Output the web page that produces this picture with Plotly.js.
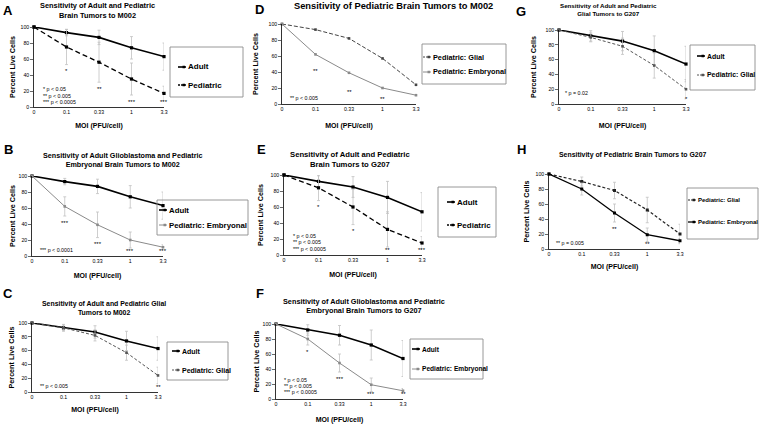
<!DOCTYPE html>
<html><head><meta charset="utf-8">
<script src="https://cdn.plot.ly/plotly-3.0.1.min.js"></script>
<style>html,body{margin:0;padding:0;background:#fff}#chart{width:760px;height:427px}</style>
</head><body><div id="chart"></div>
<script>
// ---- data ----
const moi = ['0','0.1','0.33','1','3.3'];
const adultM002 = [100,93,87,74,63];
const adultM002Err = [0,4,9,14,17];
const pedM002 = [100,75,56,35,17];
const pedM002Err = [0,22,25,20,9];
const glialM002 = [100,93,82,57,24];
const glialM002Err = [0,5,8,11,12];
const embM002 = [100,62,39,20,11];
const embM002Err = [0,12,16,10,3];
const adultG207 = [100,92,85,72,54];
const adultG207Err = [0,7,13,20,24];
const pedG207 = [100,84,60,32,15];
const pedG207Err = [0,16,22,22,8];
const glialG207 = [100,90,78,52,20];
const glialG207Err = [0,6,11,17,13];
const embG207 = [100,80,48,19,11];
const embG207Err = [0,8,12,9,3];

const starsA = ['','*','**','***','***'];
const starsB = ['','***','***','***','***'];
const starsC = ['','','','','**'];
const starsD = ['','**','**','**',''];
const starsE = ['','*','*','**','***'];
const starsF = ['','*','***','***','**'];
const starsG = ['','','','','*'];
const starsH = ['','','**','**',''];

const notes3a = ['* p < 0.05','** p < 0.005','*** p < 0.0005'];
const notesB = ['*** p < 0.0001'];
const notesCD = ['** p < 0.005'];
const notesG = ['* p = 0.02'];
const notesH = ['** p = 0.005'];

const titleA = ['Sensitivity of Adult and Pediatric','Brain Tumors to M002'];
const titleB = ['Sensitivity of Adult Glioblastoma and Pediatric','Embryonal Brain Tumors to M002'];
const titleC = ['Sensitivity of Adult and Pediatric Glial','Tumors to M002'];
const titleD = ['Sensitivity of Pediatric Brain Tumors to M002'];
const titleE = ['Sensitivity of Adult and Pediatric','Brain Tumors to G207'];
const titleF = ['Sensitivity of Adult Glioblastoma and Pediatric','Embryonal Brain Tumors to G207'];
const titleG = ['Sensitivity of Adult and Pediatric','Glial Tumors to G207'];
const titleH = ['Sensitivity of Pediatric Brain Tumors to G207'];

const xTitle = 'MOI (PFU/cell)';
const yTitle = 'Percent Live Cells';

// ---- styles ----
const FONT = 'Liberation Sans, Arial, sans-serif';
const STY = {
  adult:  {color:'#000', width:1.6, dash:'solid', mc:'#000', ms:3.2},
  ped:    {color:'#000', width:1.3, dash:'5px,3px', mc:'#000', ms:3.2},
  emb:    {color:'#8a8a8a', width:1, dash:'solid', mc:'#8a8a8a', ms:2.6},
  glial:  {color:'#555', width:1, dash:'3px,2px', mc:'#555', ms:2.6},
  glialD: {color:'#444', width:1, dash:'4px,2px', mc:'#444', ms:2.6},
  glialH: {color:'#222', width:1.2, dash:'3px,2px', mc:'#222', ms:3},
  embH:   {color:'#000', width:1.3, dash:'solid', mc:'#000', ms:3}
};

// ---- panel layout (pixels) ----
const panels = [
 {letter:'A', lp:[8,10], title:titleA, tf:7.4, tp:[97,10.5], dom:[34,164,27,107],
  series:[['Adult',adultM002,adultM002Err,'adult'],['Pediatric',pedM002,pedM002Err,'ped']],
  stars:starsA, notes:notes3a, nx:0.2, ny:[23,14,6], err:true,
  box:[170,47,243,97], sx:178, iy:[67,85], lf:8, xd:20, yd:21},
 {letter:'B', lp:[8,150], title:titleB, tf:7.2, tp:[122,159.5], dom:[32,163,176,256],
  series:[['Adult',adultM002,adultM002Err,'adult'],['Pediatric: Embryonal',embM002,embM002Err,'emb']],
  stars:starsB, notes:notesB, nx:0.18, ny:[8], err:true,
  box:[157,200,248,235], sx:159, iy:[210,225], lf:7.8, xd:21, yd:19},
 {letter:'C', lp:[8,293], title:titleC, tf:6.9, tp:[104,307.5], dom:[32,158,323,392],
  series:[['Adult',adultM002,adultM002Err,'adult'],['Pediatric: Glial',glialM002,glialM002Err,'glial']],
  stars:starsC, notes:notesCD, nx:0.19, ny:[8], err:true,
  box:[167,342,228,380], sx:172, iy:[351,370], lf:7, xd:19, yd:20},
 {letter:'D', lp:[259,9], title:titleD, tf:9.3, tp:[393,6], dom:[282,416,24,104],
  series:[['Pediatric: Glial',glialM002,glialM002Err,'glialD'],['Pediatric: Embryonal',embM002,embM002Err,'emb']],
  stars:starsD, notes:notesCD, nx:0.18, ny:[8], err:false,
  box:[422,44,506,84], sx:423, iy:[57,72], lf:7.3, xd:23, yd:17},
 {letter:'E', lp:[261,150], title:titleE, tf:7.7, tp:[350,159.5], dom:[284,422,175,255],
  series:[['Adult',adultG207,adultG207Err,'adult'],['Pediatric',pedG207,pedG207Err,'ped']],
  stars:starsE, notes:notes3a, nx:0.2, ny:[24,16,8], err:true,
  box:[438,187,496,237], sx:447, iy:[202,225], lf:8, xd:21, yd:23},
 {letter:'F', lp:[260,293], title:titleF, tf:7.3, tp:[364,305.5], dom:[276,403,324,399],
  series:[['Adult',adultG207,adultG207Err,'adult'],['Pediatric: Embryonal',embG207,embG207Err,'emb']],
  stars:starsF, notes:notes3a, nx:0.19, ny:[26,17,9], err:true,
  box:[410,339,483,379], sx:412, iy:[349,369], lf:6.6, xd:22, yd:19},
 {letter:'G', lp:[521,11], title:titleG, tf:6.2, tp:[608,9.5], dom:[559,686,30,104],
  series:[['Adult',adultG207,adultG207Err,'adult'],['Pediatric: Glial',glialG207,glialG207Err,'glial']],
  stars:starsG, notes:notesG, nx:0.13, ny:[15], err:true,
  box:[690,45,755,90], sx:697, iy:[56,75], lf:6.9, xd:23, yd:25},
 {letter:'H', lp:[521,150], title:titleH, tf:6.9, tp:[632,155], dom:[549,680,174,249],
  series:[['Pediatric: Glial',glialG207,glialG207Err,'glialH'],['Pediatric: Embryonal',embG207,embG207Err,'embH']],
  stars:starsH, notes:notesH, nx:0.15, ny:[8], err:true,
  box:[687,188,758,239], sx:688, iy:[200,222], lf:6, xd:19, yd:22}
];

const W = 760, H = 427;
const px = v => v / W, py = v => 1 - v / H;
const data = [], annotations = [], shapes = [];
const layout = {
  width: W, height: H, margin:{l:0,r:0,t:0,b:0},
  paper_bgcolor:'#fff', plot_bgcolor:'rgba(0,0,0,0)',
  showlegend:false, font:{family:FONT, color:'#000'}
};

panels.forEach((p, i) => {
  const n = i === 0 ? '' : String(i + 1);
  const xr = 'x' + n, yr = 'y' + n;
  layout['xaxis' + n] = {
    domain:[px(p.dom[0]), px(p.dom[1])], anchor:yr, type:'category', range:[0,4],
    showline:true, linecolor:'#000', linewidth:0.8, ticks:'', showgrid:false, zeroline:false,
    tickfont:{family:FONT, size:5.2, color:'#000'}, fixedrange:true,
    title:{text:xTitle, font:{family:FONT, size:7, weight:'bold', color:'#000'}, standoff:p.xd - 12}
  };
  layout['yaxis' + n] = {
    domain:[py(p.dom[3]), py(p.dom[2])], anchor:xr, range:[0,100], dtick:20,
    showline:true, linecolor:'#000', linewidth:0.8, ticks:'outside', ticklen:3, tickwidth:0.8,
    showgrid:false, zeroline:false, tickfont:{family:FONT, size:5.2, color:'#000'}, fixedrange:true,
    title:{text:yTitle, font:{family:FONT, size:7.2, weight:'bold', color:'#000'}, standoff:p.yd - 18}
  };
  p.series.forEach(([name, vals, errs, st]) => {
    const s = STY[st];
    data.push({
      type:'scatter', mode:'lines+markers', name:name, x:moi, y:vals,
      xaxis:xr, yaxis:yr, cliponaxis:false, hoverinfo:'skip',
      line:{color:s.color, width:s.width, dash:s.dash},
      marker:{symbol:'square', size:s.ms, color:s.mc},
      error_y:{type:'data', array:errs, visible:p.err, color:'#c2c2c2', thickness:0.8, width:1.5}
    });
  });
  // significance stars under points (x given as category index)
  p.stars.forEach((t, k) => {
    if (!t) return;
    let low = 100;
    p.series.forEach(([, vals, errs]) => { low = Math.min(low, vals[k] - errs[k]); });
    const nearAxis = low < 14;
    annotations.push({xref:xr, yref:yr, x:k, y:nearAxis ? 0.5 : low - 2, yanchor:nearAxis ? 'bottom' : 'top',
      xanchor:'center', text:t, showarrow:false, font:{family:FONT, size:6, color:'#000'}});
  });
  // p-value notes
  p.notes.forEach((t, j) => {
    annotations.push({xref:xr, yref:yr, x:p.nx, y:p.ny[j], xanchor:'left', yanchor:'middle',
      text:t, showarrow:false, font:{family:FONT, size:5.3, color:'#000'}});
  });
  // title
  annotations.push({xref:'paper', yref:'paper', x:px(p.tp[0]), y:py(p.tp[1]), xanchor:'center', yanchor:'middle',
    text:p.title.join('<br>'), showarrow:false, font:{family:FONT, size:p.tf, weight:'bold', color:'#000'}});
  // letter
  annotations.push({xref:'paper', yref:'paper', x:px(p.lp[0]), y:py(p.lp[1]), xanchor:'center', yanchor:'middle',
    text:p.letter, showarrow:false, font:{family:FONT, size:13, weight:'bold', color:'#000'}});
  // legend box
  shapes.push({type:'rect', xref:'paper', yref:'paper', x0:px(p.box[0]), x1:px(p.box[2]), y0:py(p.box[1]), y1:py(p.box[3]),
    line:{color:'#8c8c8c', width:0.9}, fillcolor:'rgba(0,0,0,0)'});
  p.series.forEach(([name, , , st], j) => {
    const s = STY[st];
    const yy = py(p.iy[j]);
    shapes.push({type:'line', xref:'paper', yref:'paper', x0:px(p.sx), x1:px(p.sx + 8), y0:yy, y1:yy,
      line:{color:s.color, width:s.width, dash:s.dash === 'solid' ? 'solid' : '2px,1px'}});
    shapes.push({type:'rect', xref:'paper', yref:'paper', x0:px(p.sx + 4.5), x1:px(p.sx + 7), y0:py(p.iy[j] + 1.25), y1:py(p.iy[j] - 1.25),
      line:{width:0}, fillcolor:s.mc});
    annotations.push({xref:'paper', yref:'paper', x:px(p.sx + 8), y:yy, xanchor:'left', yanchor:'middle',
      text:name, showarrow:false, font:{family:FONT, size:p.lf, weight:'bold', color:'#000'}});
  });
});

layout.annotations = annotations;
layout.shapes = shapes;
Plotly.newPlot('chart', data, layout, {staticPlot:true, displayModeBar:false});
</script>
</body></html>
